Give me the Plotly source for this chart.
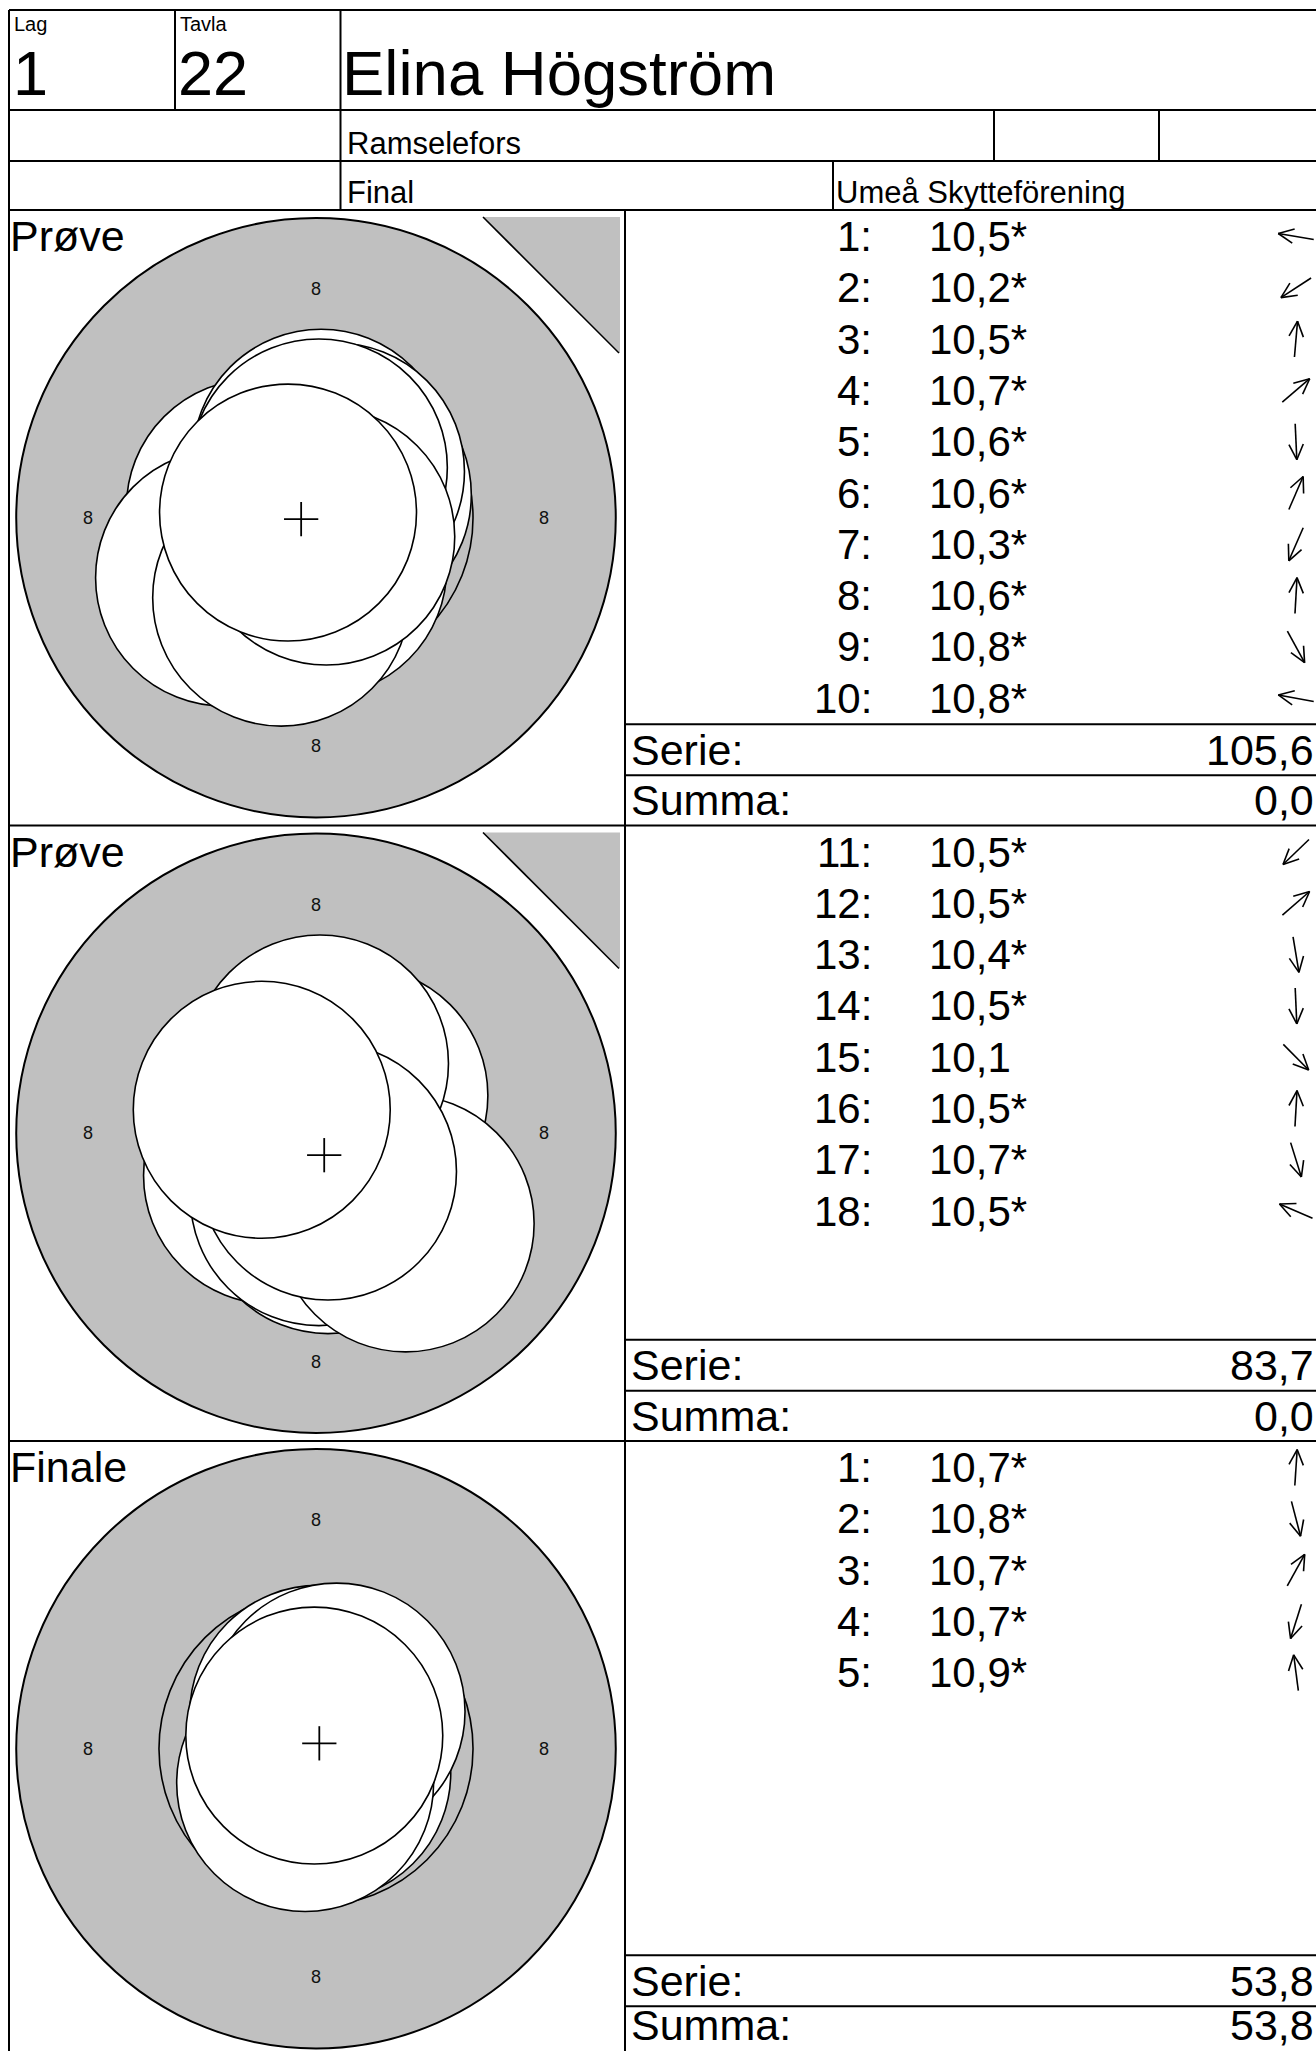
import math
import plotly.graph_objects as go

# ---------------- data ----------------
lag_label, tavla_label = "Lag", "Tavla"
lag_value, tavla_value = "1", "22"
shooter_name = "Elina Högström"
shooter_place = "Ramselefors"
match_type = "Final"
club_name = "Umeå Skytteförening"

section_titles = ["Prøve", "Prøve", "Finale"]
section_sighter_mark = [True, True, False]

# shot positions are in mm from the target centre (y up)
shot_numbers_1 = [1, 2, 3, 4, 5, 6, 7, 8, 9, 10]
shot_scores_1 = [10.5, 10.2, 10.5, 10.7, 10.6, 10.6, 10.3, 10.6, 10.8, 10.8]
shot_star_1 = [True, True, True, True, True, True, True, True, True, True]
shot_x_1 = [-1.07, -1.61, 0.09, 0.47, 0.04, 0.35, -0.61, 0.05, 0.18, -0.49]
shot_y_1 = [0.18, -1.05, 1.05, 0.40, -0.88, 0.81, -1.40, 0.88, -0.33, 0.09]

shot_numbers_2 = [11, 12, 13, 14, 15, 16, 17, 18]
shot_scores_2 = [10.5, 10.5, 10.4, 10.5, 10.1, 10.5, 10.7, 10.5]
shot_star_2 = [True, True, True, True, False, True, True, True]
shot_x_2 = [-0.77, 0.76, 0.21, 0.05, 1.57, 0.07, 0.21, -0.95]
shot_y_2 = [-0.74, 0.66, -1.26, -1.12, -1.58, 1.22, -0.67, 0.41]

shot_numbers_3 = [1, 2, 3, 4, 5]
shot_scores_3 = [10.7, 10.8, 10.7, 10.7, 10.9]
shot_star_3 = [True, True, True, True, True]
shot_x_3 = [0.04, 0.11, 0.36, -0.19, -0.03]
shot_y_3 = [0.61, -0.42, 0.65, -0.60, 0.23]

serie_values = [105.6, 83.7, 53.8]
summa_values = [0.0, 0.0, 53.8]
ring_label = "8"
serie_label, summa_label = "Serie:", "Summa:"

sections = [
    (shot_numbers_1, shot_scores_1, shot_star_1, shot_x_1, shot_y_1),
    (shot_numbers_2, shot_scores_2, shot_star_2, shot_x_2, shot_y_2),
    (shot_numbers_3, shot_scores_3, shot_star_3, shot_x_3, shot_y_3),
]

# ---------------- layout constants ----------------
W, H = 1316, 2051
FONT = "Liberation Sans, Arial, sans-serif"
SEC_TOP = [210.0, 825.5, 1441.0]
SEC_H = 615.5
LEFT = 9.0
DIV_X = 625.0
TARGET_CX = 316.0
PPM = 57.1           # pixels per mm on the target
R_OUTER = 5.25
R_RING9 = 2.75
R_SHOT = 2.25
LABEL_R = 4.0
CROSS = 0.30
GREY = "#c0c0c0"
ROW0, ROW_STEP = 26.5, 51.3
MAIN_FS = 42
LABEL_FS = 43


def fmt(v):
    return f"{v:.1f}".replace(".", ",")


fig = go.Figure()
shapes = []
annotations = []
layout_axes = {}

# page axis (pixel units) for table, text and arrows
layout_axes["xaxis4"] = dict(domain=[0, 1], range=[0, W], visible=False, fixedrange=True)
layout_axes["yaxis4"] = dict(domain=[0, 1], range=[H, 0], visible=False, fixedrange=True)


def pline(x0, y0, x1, y1, w=2.0):
    shapes.append(dict(type="line", xref="x4", yref="y4", x0=x0, y0=y0, x1=x1, y1=y1,
                       line=dict(color="black", width=w)))


def ptext(x, y, s, size, anchor="left", xshift=0):
    annotations.append(dict(xref="x4", yref="y4", x=x, y=y, text=s, showarrow=False,
                            xanchor=anchor, yanchor="middle", xshift=xshift,
                            font=dict(family=FONT, size=size, color="black")))


# ---------------- targets ----------------
for k, (nums, scores, stars, sx, sy) in enumerate(sections):
    ax = "" if k == 0 else str(k + 1)
    top = SEC_TOP[k]
    bot = min(top + SEC_H, H)
    cy = top + 307.7
    layout_axes["xaxis" + ax] = dict(
        domain=[LEFT / W, DIV_X / W],
        range=[(LEFT - TARGET_CX) / PPM, (DIV_X - TARGET_CX) / PPM],
        visible=False, fixedrange=True, anchor="y" + ax)
    layout_axes["yaxis" + ax] = dict(
        domain=[1 - bot / H, 1 - top / H],
        range=[(cy - bot) / PPM, (cy - top) / PPM],
        visible=False, fixedrange=True, anchor="x" + ax)
    xr, yr = "x" + ax, "y" + ax
    # grey aiming area
    shapes.append(dict(type="circle", xref=xr, yref=yr, x0=-R_OUTER, y0=-R_OUTER,
                       x1=R_OUTER, y1=R_OUTER, fillcolor=GREY,
                       line=dict(color="black", width=2)))
    shapes.append(dict(type="circle", xref=xr, yref=yr, x0=-R_RING9, y0=-R_RING9,
                       x1=R_RING9, y1=R_RING9, fillcolor="rgba(0,0,0,0)",
                       line=dict(color="black", width=1.6)))
    for (px, py) in [(0, LABEL_R), (0, -LABEL_R), (-LABEL_R, 0), (LABEL_R, 0)]:
        annotations.append(dict(xref=xr, yref=yr, x=px, y=py, text=ring_label,
                                showarrow=False, xanchor="center", yanchor="middle",
                                font=dict(family=FONT, size=18, color="#111")))
    # shots in firing order (last on top)
    for x, y in zip(sx, sy):
        shapes.append(dict(type="circle", xref=xr, yref=yr, x0=x - R_SHOT, y0=y - R_SHOT,
                           x1=x + R_SHOT, y1=y + R_SHOT, fillcolor="white",
                           line=dict(color="black", width=1.6)))
    # mean point of impact
    mx = sum(sx) / len(sx)
    my = sum(sy) / len(sy)
    shapes.append(dict(type="line", xref=xr, yref=yr, x0=mx - CROSS, x1=mx + CROSS, y0=my, y1=my,
                       line=dict(color="black", width=1.8)))
    shapes.append(dict(type="line", xref=xr, yref=yr, x0=mx, x1=mx, y0=my - CROSS, y1=my + CROSS,
                       line=dict(color="black", width=1.8)))

    # sighter triangle
    if section_sighter_mark[k]:
        shapes.append(dict(type="path", xref="x4", yref="y4",
                           path=f"M 483 {top + 7} L 620 {top + 7} L 620 {top + 143} Z",
                           fillcolor=GREY, line=dict(width=0)))
        pline(483, top + 7, 619, top + 143, 1.6)

    # section title
    ptext(8, top + 26, section_titles[k], LABEL_FS)

    # shot list
    arrow_x, arrow_y = [], []
    for i, (n, s, st, x, y) in enumerate(zip(nums, scores, stars, sx, sy)):
        ry = top + ROW0 + ROW_STEP * i
        ptext(874, ry, f"{n}:", MAIN_FS, anchor="right")
        ptext(927, ry, fmt(s) + ("*" if st else ""), MAIN_FS)
        a = math.atan2(y, x)
        ux, uy = math.cos(a), -math.sin(a)
        cxp, L, HL = 1296.0, 18.0, 17.0
        tx, ty = cxp - L * ux, ry - L * uy
        hx, hy = cxp + L * ux, ry + L * uy
        arrow_x += [tx, hx, None]
        arrow_y += [ty, hy, None]
        for sgn in (1, -1):
            t = math.radians(25) * sgn
            bx, by = -ux, -uy
            rx = bx * math.cos(t) - by * math.sin(t)
            ry2 = bx * math.sin(t) + by * math.cos(t)
            arrow_x += [hx, hx + HL * rx, None]
            arrow_y += [hy, hy + HL * ry2, None]
    fig.add_trace(go.Scatter(x=arrow_x, y=arrow_y, mode="lines", xaxis="x4", yaxis="y4",
                             line=dict(color="black", width=1.6), hoverinfo="skip",
                             showlegend=False))

    # Serie / Summa rows
    y1 = top + 514.3
    y2 = top + 565.3
    pline(DIV_X, y1, W, y1)
    pline(DIV_X, y2, W, y2)
    summa_y = min((y2 + top + SEC_H) / 2, H - 26)   # keep the last row inside the page
    ptext(629, (y1 + y2) / 2, serie_label, LABEL_FS)
    ptext(629, summa_y, summa_label, LABEL_FS)
    ptext(W, (y1 + y2) / 2, fmt(serie_values[k]), LABEL_FS, anchor="right")
    ptext(W, summa_y, fmt(summa_values[k]), LABEL_FS, anchor="right")

# ---------------- form lines ----------------
pline(LEFT, 10, W, 10)
pline(LEFT, 10, LEFT, H)
pline(LEFT, 110, W, 110)
pline(LEFT, 161, W, 161)
pline(175, 10, 175, 110)
pline(340.5, 10, 340.5, 210)
pline(994, 110, 994, 161)
pline(1159, 110, 1159, 161)
pline(833, 161, 833, 210)
for t in SEC_TOP:
    pline(LEFT, t, W, t)
pline(DIV_X, SEC_TOP[0], DIV_X, H)

# ---------------- header texts ----------------
ptext(12, 24, lag_label, 20)
ptext(178, 24, tavla_label, 20)
ptext(11, 73, lag_value, 63)
ptext(176, 73, tavla_value, 63)
ptext(340, 73, shooter_name, 63.5)
ptext(345, 143, shooter_place, 31)
ptext(345, 192, match_type, 31)
ptext(834, 192, club_name, 31)

fig.update_layout(
    width=W, height=H, autosize=False,
    margin=dict(l=0, r=0, t=0, b=0, pad=0),
    paper_bgcolor="white", plot_bgcolor="rgba(0,0,0,0)",
    showlegend=False, shapes=shapes, annotations=annotations,
    **layout_axes,
)

fig.write_html("out.html", config={"displayModeBar": False},
               post_script="document.body.style.margin='0';document.body.style.overflow='hidden';")
